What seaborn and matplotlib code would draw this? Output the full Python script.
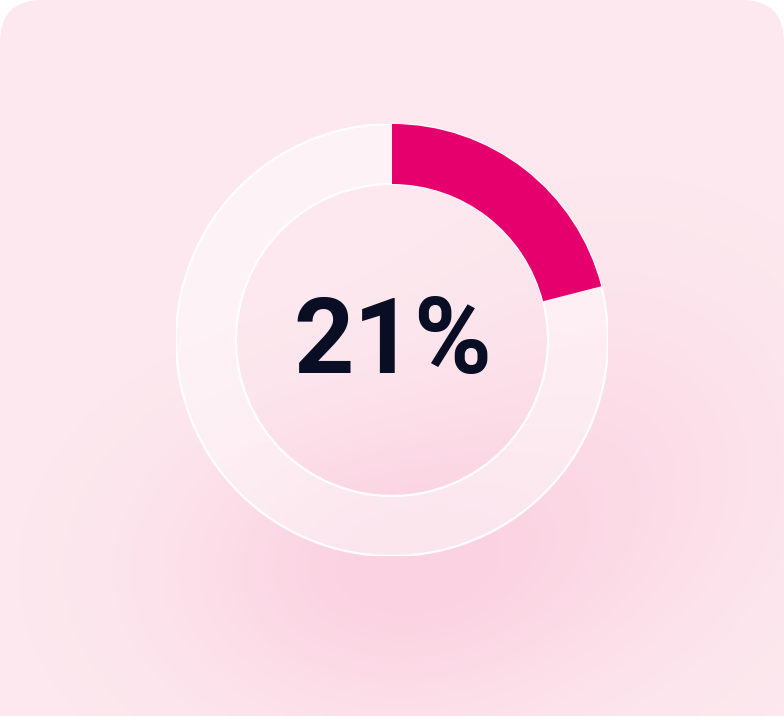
import numpy as np
import matplotlib
matplotlib.use("Agg")
import matplotlib.pyplot as plt
from matplotlib.patches import FancyBboxPatch, Circle
import seaborn as sns

# ---- data ----
labels = ["Share", "Remainder"]
values = [21, 79]
center_label = "21%"

sns.set_theme(style="white")
plt.rcParams['font.family'] = ['Roboto', 'DejaVu Sans']

W, H, DPI = 784, 716, 100
fig = plt.figure(figsize=(W / DPI, H / DPI), dpi=DPI)
fig.patch.set_facecolor("white")

# ---- background card with soft gradient ----
bg = fig.add_axes([0, 0, 1, 1])
bg.set_xlim(0, W)
bg.set_ylim(H, 0)
bg.axis("off")
yy, xx = np.mgrid[0:H, 0:W]
base = np.array([253, 233, 239]) / 255.0
blob = np.array([251, 210, 225]) / 255.0
w1 = np.exp(-(((xx - 390) / 210.0) ** 2 + ((yy - 570) / 150.0) ** 2))
w2 = 0.45 * np.exp(-(((xx - 620) / 180.0) ** 2 + ((yy - 450) / 180.0) ** 2))
w = np.clip(w1 + w2, 0, 1)[..., None]
img = base * (1 - w) + blob * w
im = bg.imshow(img, extent=[0, W, H, 0], interpolation="bilinear", zorder=0)
card = FancyBboxPatch((0, 0), W, H + 80, boxstyle="round,pad=0,rounding_size=42",
                      transform=bg.transData, facecolor="none", edgecolor="none")
bg.add_patch(card)
im.set_clip_path(card)

# ---- donut ----
cx, cy, R = 392, 340, 216
ax = fig.add_axes([(cx - R) / W, 1 - (cy + R) / H, 2 * R / W, 2 * R / H])
ax.set_xlim(-1, 1)
ax.set_ylim(-1, 1)
ax.axis("off")
ring_w = 60 / R

# pale track
ax.pie([100], radius=1, startangle=90, counterclock=False,
       colors=["white"], wedgeprops=dict(width=ring_w, alpha=0.45, linewidth=0))
for r in (1, 1 - ring_w):
    ax.add_patch(Circle((0, 0), r, facecolor="none", edgecolor="white", lw=1.6, alpha=0.95))

# value arc
wedges, _ = ax.pie(values, radius=1, startangle=90, counterclock=False,
                   colors=["#E6006E", "none"],
                   wedgeprops=dict(width=ring_w, linewidth=0))
wedges[1].set_visible(False)
ax.set_xlim(-1.0, 1.0)
ax.set_ylim(-1.0, 1.0)

fig.text(cx / W + 0.001, 1 - 373 / H, center_label, ha="center", va="baseline",
         fontsize=76, fontweight="bold", color="#0A0E24")

fig.savefig("out.png", dpi=DPI)
